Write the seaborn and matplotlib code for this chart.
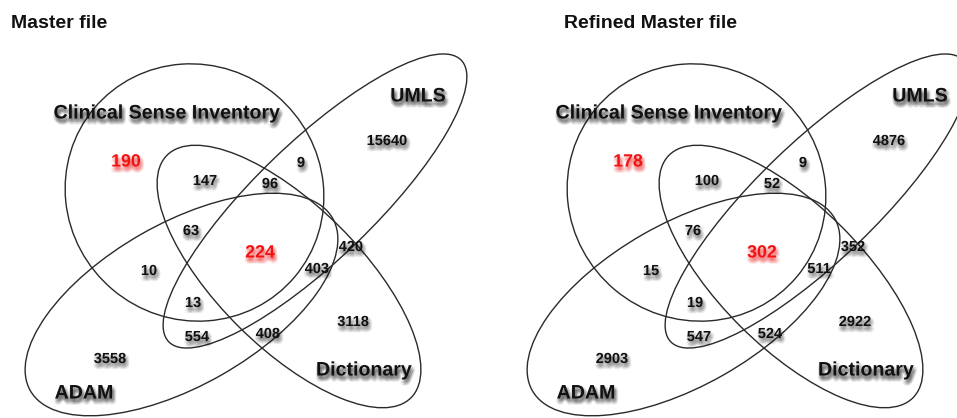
import numpy as np
import pandas as pd
import matplotlib
matplotlib.use("Agg")
import matplotlib.pyplot as plt
import matplotlib.patheffects as pe
from matplotlib.patches import Ellipse
import seaborn as sns

# ---------------- data ----------------
panel_titles = ["Master file", "Refined Master file"]
set_names = ["Clinical Sense Inventory", "UMLS", "Dictionary", "ADAM"]
regions = ["CSI", "CSI&Dict", "CSI&UMLS", "CSI&UMLS&Dict", "UMLS",
           "CSI&Dict&ADAM", "All", "UMLS&Dict", "UMLS&Dict&ADAM", "CSI&ADAM",
           "CSI&UMLS&ADAM", "UMLS&ADAM", "Dict&ADAM", "Dict", "ADAM"]
master_counts = [190, 147, 9, 96, 15640, 63, 224, 420, 403, 10, 13, 554, 408, 3118, 3558]
refined_counts = [178, 100, 9, 52, 4876, 76, 302, 352, 511, 15, 19, 547, 524, 2922, 2903]
highlighted = ["CSI", "All"]

# ---------------- layout (pixel units, y downward) ----------------
H = 418.0
ellipse_geom = {  # cx, cy, width, height, angle
    "Clinical Sense Inventory": (194.5, 192.5, 262, 254, -40),
    "UMLS": (315, 201, 406, 118, 43.9),
    "Dictionary": (289, 276.5, 344, 142, -44.8),
    "ADAM": (181.5, 304.5, 348, 162, 29.7),
}
set_label_pos = {
    "Clinical Sense Inventory": (167, 113),
    "UMLS": (418, 96),
    "Dictionary": (364, 370),
    "ADAM": (84, 393),
}
region_pos = {
    "CSI": (126, 162), "CSI&Dict": (205, 181), "CSI&UMLS": (301, 163),
    "CSI&UMLS&Dict": (270, 184), "UMLS": (387, 141), "CSI&Dict&ADAM": (191, 231),
    "All": (260, 253), "UMLS&Dict": (351, 247), "UMLS&Dict&ADAM": (317, 269),
    "CSI&ADAM": (149, 271), "CSI&UMLS&ADAM": (193, 303), "UMLS&ADAM": (197, 337),
    "Dict&ADAM": (268, 334), "Dict": (353, 322), "ADAM": (110, 359),
}
title_x = {"Master file": 11, "Refined Master file": 62}
title_y = 23

FONT = "Liberation Sans"


def shadow(color, strength=0.07):
    # soft, blurred drop shadow built from several offset copies
    offs = []
    for r, n in ((0.0, 1), (1.0, 6), (2.0, 8)):
        for k in range(n):
            t = 2 * np.pi * k / n
            offs.append((1.0 + r * np.cos(t), -2.6 + r * np.sin(t)))
    return [pe.SimplePatchShadow(offset=o, shadow_rgbFace=color, alpha=strength)
            for o in offs] + [pe.Normal()]


def draw_panel(data, color=None, **kws):
    ax = plt.gca()
    panel = data["panel"].iloc[0]
    for name in set_names:
        cx, cy, w, h, ang = ellipse_geom[name]
        ax.add_patch(Ellipse((cx, H - cy), w, h, angle=ang, fill=False,
                             ec="#2a2a2a", lw=1.0, zorder=2))
    for _, row in data.iterrows():
        x, y = region_pos[row["region"]]
        hi = row["region"] in highlighted
        c = "#f21212" if hi else "#111111"
        ax.text(x, H - y, str(row["count"]), ha="center", va="center",
                fontsize=12.8 if hi else 10.5, fontweight="bold", family=FONT,
                color=c, zorder=4, path_effects=shadow(c, 0.075 if hi else 0.06))
    for name in set_names:
        x, y = set_label_pos[name]
        ax.text(x, H - y, name, ha="center", va="center", fontsize=14.1,
                fontweight="bold", family=FONT, color="#111111", zorder=4,
                path_effects=shadow("#000000", 0.07))
    ax.text(title_x[panel], H - title_y, panel, ha="left", va="center",
            fontsize=14, fontweight="bold", family=FONT, color="#111111", zorder=4)


sns.set_theme(style="white")
df = pd.DataFrame({
    "panel": np.repeat(panel_titles, len(regions)),
    "region": regions * 2,
    "count": master_counts + refined_counts,
})

g = sns.FacetGrid(df, col="panel", col_order=panel_titles, sharex=True,
                  sharey=True, despine=False, height=4.18, aspect=502 / 418)
g.map_dataframe(draw_panel)
g.set_titles("")
fig = g.figure
fig.set_size_inches(9.57, 4.18)
fig.set_dpi(100)
fig.patch.set_facecolor("white")
W = 957.0
lefts = [-23.5, 478.5]
for ax, lp in zip(g.axes.flat, lefts):
    ax.set_position([lp / W, 0, 502 / W, 1])
    ax.set_xlim(-23.5, 478.5)
    ax.set_ylim(0, H)
    ax.set_axis_off()
    ax.set_title("")

fig.savefig("out.png", dpi=100, facecolor="white")
